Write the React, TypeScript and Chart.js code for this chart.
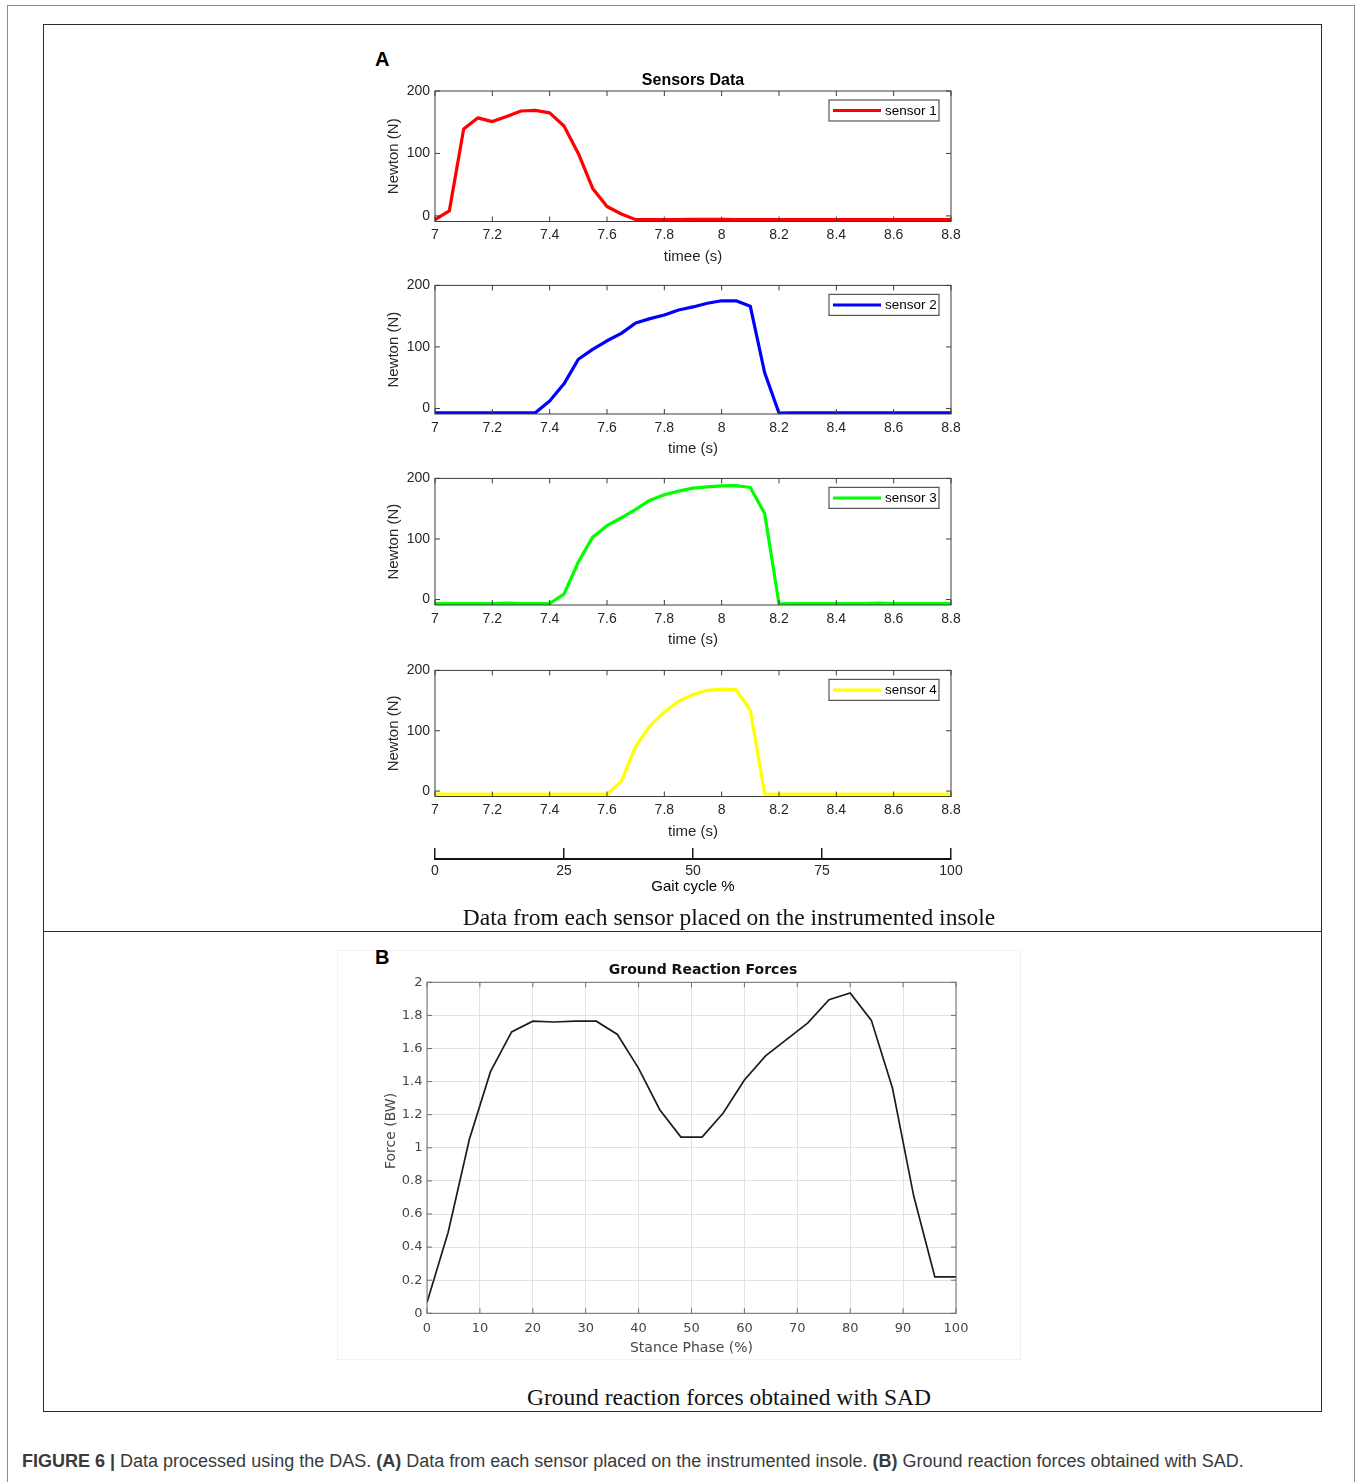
import React, { useEffect, useRef } from "react";
import { Chart, registerables } from "chart.js";

Chart.register(...registerables);

// ---------------- Data ----------------
const timeSeconds = [
  7.0, 7.05, 7.1, 7.15, 7.2, 7.25, 7.3, 7.35, 7.4, 7.45, 7.5, 7.55, 7.6, 7.65, 7.7, 7.75, 7.8, 7.85, 7.9,
  7.95, 8.0, 8.05, 8.1, 8.15, 8.2, 8.25, 8.3, 8.35, 8.4, 8.45, 8.5, 8.55, 8.6, 8.65, 8.7, 8.75, 8.8,
];
const sensor1 = [
  -6, 8, 139, 157, 151, 159, 168, 169, 165, 144, 100, 44, 15, 3, -6, -6, -6, -6, -5.5, -5.5, -5.5, -6, -6,
  -6, -6, -6, -6, -6, -6, -6, -6, -6, -6, -6, -6, -6, -6,
];
const sensor2 = [
  -7, -7, -7, -7, -7, -7, -7, -7, 12, 40, 80, 96, 110, 122, 139, 146, 152, 160, 165, 171, 175, 175, 166, 58,
  -7.5, -7, -7, -7, -7, -7, -7, -7, -7, -7, -7, -7, -7,
];
const sensor3 = [
  -6.5, -6.5, -6.5, -6.5, -6.5, -6, -6.5, -6.5, -6.5, 9, 62, 103, 122, 135, 149, 164, 173, 179, 184, 186,
  187.5, 188, 185, 142, -7, -6.5, -6.5, -6.5, -6.5, -6.5, -6.5, -6, -6.5, -6.5, -6.5, -6.5, -6.5,
];
const sensor4 = [
  -5, -5, -5, -5, -5, -5, -5, -5, -5, -5, -5, -5, -5, 16, 74, 108, 131, 149, 160, 167, 169, 168, 134, -5,
  -5, -5, -5, -5, -5, -5, -5, -5, -5, -5, -5, -5, -5,
];
const timeTicks = [7, 7.2, 7.4, 7.6, 7.8, 8, 8.2, 8.4, 8.6, 8.8];
const newtonTicks = [0, 100, 200];
const gaitTicks = [0, 25, 50, 75, 100];

const stancePhase = [0, 4, 8, 12, 16, 20, 24, 28, 32, 36, 40, 44, 48, 52, 56, 60, 64, 68, 72, 76, 80, 84, 88, 92, 96, 100];
const groundReaction = [
  0.065, 0.49, 1.05, 1.46, 1.7, 1.765, 1.76, 1.765, 1.765, 1.685, 1.48, 1.23, 1.065, 1.065, 1.21, 1.41,
  1.555, 1.655, 1.755, 1.895, 1.935, 1.77, 1.36, 0.71, 0.22, 0.22,
];
const stanceTicks = [0, 10, 20, 30, 40, 50, 60, 70, 80, 90, 100];
const forceTicks = [0, 0.2, 0.4, 0.6, 0.8, 1, 1.2, 1.4, 1.6, 1.8, 2];

// ---------------- Styling ----------------
const FONT_A = '"Liberation Sans", Arial, sans-serif';
const FONT_B = '"DejaVu Sans", Verdana, sans-serif';
const TEXT_A = "#262626";
const TEXT_B = "#474747";

const fmt = (v: number) => String(Math.round(v * 100) / 100);

// Draws the MATLAB-like box, inward ticks, inner legend and free text
const framePlugin = {
  id: "frame",
  afterDraw(chart: any, _args: any, opts: any) {
    const { ctx, chartArea: a } = chart;
    ctx.save();
    if (opts && opts.color) {
      ctx.strokeStyle = opts.color;
      ctx.lineWidth = opts.width || 1;
      ctx.strokeRect(a.left, a.top, a.right - a.left, a.bottom - a.top);
      const L = opts.tickLen || 0;
      if (L > 0) {
        const xs = chart.scales.x;
        const ys = chart.scales.y;
        ctx.beginPath();
        xs.ticks.forEach((t: any) => {
          const p = xs.getPixelForValue(t.value);
          ctx.moveTo(p, a.bottom);
          ctx.lineTo(p, a.bottom - L);
          ctx.moveTo(p, a.top);
          ctx.lineTo(p, a.top + L);
        });
        ys.ticks.forEach((t: any) => {
          const p = ys.getPixelForValue(t.value);
          ctx.moveTo(a.left, p);
          ctx.lineTo(a.left + L, p);
          ctx.moveTo(a.right, p);
          ctx.lineTo(a.right - L, p);
        });
        ctx.stroke();
      }
    }
    if (opts && opts.legend) {
      const lg = opts.legend;
      const ds = chart.data.datasets[0];
      const x0 = a.right - lg.offsetRight - lg.w;
      const y0 = a.top + lg.offsetTop;
      ctx.fillStyle = "#ffffff";
      ctx.fillRect(x0, y0, lg.w, lg.h);
      ctx.strokeStyle = lg.border;
      ctx.lineWidth = 1.2;
      ctx.strokeRect(x0, y0, lg.w, lg.h);
      ctx.strokeStyle = ds.borderColor;
      ctx.lineWidth = 3;
      ctx.beginPath();
      ctx.moveTo(x0 + 4, y0 + lg.h / 2);
      ctx.lineTo(x0 + 52, y0 + lg.h / 2);
      ctx.stroke();
      ctx.fillStyle = lg.color;
      ctx.font = lg.font;
      ctx.textBaseline = "middle";
      ctx.textAlign = "left";
      ctx.fillText(ds.label, x0 + 56, y0 + lg.h / 2 + 0.5);
    }
    if (opts && opts.texts) {
      opts.texts.forEach((t: any) => {
        ctx.save();
        ctx.translate(t.x, t.y);
        if (t.rotate) ctx.rotate(t.rotate);
        ctx.font = t.font;
        ctx.fillStyle = t.color;
        ctx.textAlign = "center";
        ctx.textBaseline = "middle";
        ctx.fillText(t.text, 0, 0);
        ctx.restore();
      });
    }
    ctx.restore();
  },
};

// ---------------- Layout (positions only) ----------------
const A_LEFT = 370;
const A_WIDTH = 600;
const A_PAD_LEFT = 15;
const A_Y_W = 50;
const A_PAD_RIGHT = 19;
const A_X_H = 44;

type Panel = {
  values: number[];
  label: string;
  color: string;
  xTitle: string;
  top: number;
  h: number;
  title?: string;
};

const panels: Panel[] = [
  { values: sensor1, label: "sensor 1", color: "#ff0000", xTitle: "timee (s)", top: 91, h: 130.5, title: "Sensors Data" },
  { values: sensor2, label: "sensor 2", color: "#0000ff", xTitle: "time (s)", top: 284, h: 130 },
  { values: sensor3, label: "sensor 3", color: "#00ff00", xTitle: "time (s)", top: 477, h: 128 },
  { values: sensor4, label: "sensor 4", color: "#ffff00", xTitle: "time (s)", top: 669, h: 127.5 },
];

function CanvasChart(props: { left: number; top: number; width: number; height: number; make: () => any }) {
  const ref = useRef<HTMLCanvasElement | null>(null);
  useEffect(() => {
    if (!ref.current) return;
    const chart = new Chart(ref.current, props.make());
    return () => chart.destroy();
  }, []);
  return (
    <canvas
      ref={ref}
      width={props.width}
      height={props.height}
      style={{ position: "absolute", left: props.left, top: props.top, width: props.width, height: props.height }}
    />
  );
}

function sensorGeometry(p: Panel) {
  const pre = p.title ? 23 : 12;
  const canvasTop = p.top - pre;
  const canvasH = Math.ceil(pre + p.h + A_X_H);
  const xH = canvasH - pre - p.h;
  return { pre, canvasTop, canvasH, xH };
}

function sensorConfig(p: Panel) {
  const g = sensorGeometry(p);
  return {
    type: "line",
    data: {
      datasets: [
        {
          label: p.label,
          data: timeSeconds.map((t, i) => ({ x: t, y: p.values[i] })),
          borderColor: p.color,
          backgroundColor: p.color,
          borderWidth: 3.2,
          pointRadius: 0,
          tension: 0,
          fill: false,
          borderJoinStyle: "round",
        },
      ],
    },
    options: {
      responsive: false,
      animation: false,
      events: [],
      layout: { padding: { left: A_PAD_LEFT, right: A_PAD_RIGHT, top: p.title ? 0 : g.pre, bottom: 0 } },
      plugins: {
        legend: { display: false },
        tooltip: { enabled: false },
        title: p.title
          ? {
              display: true,
              text: p.title,
              fullSize: false,
              color: "#000000",
              font: { family: FONT_A, size: 16, weight: "bold" },
              padding: { top: 3, bottom: 0.8 },
            }
          : { display: false },
        frame: {
          color: "#3c3c3c",
          width: 1,
          tickLen: 5,
          legend: {
            offsetRight: 12,
            offsetTop: 9,
            w: 110,
            h: 21,
            border: "#555555",
            color: "#000000",
            font: `13.5px ${FONT_A}`,
          },
        },
      },
      scales: {
        x: {
          type: "linear",
          min: 7,
          max: 8.8,
          afterBuildTicks: (s: any) => {
            s.ticks = timeTicks.map((v) => ({ value: v }));
          },
          afterFit: (s: any) => {
            s.height = g.xH;
          },
          grid: { display: false, drawTicks: false },
          border: { display: false },
          ticks: {
            color: TEXT_A,
            font: { family: FONT_A, size: 14 },
            padding: 5.5,
            maxRotation: 0,
            autoSkip: false,
            callback: (v: any) => fmt(Number(v)),
          },
          title: {
            display: true,
            text: p.xTitle,
            color: TEXT_A,
            font: { family: FONT_A, size: 15 },
            padding: { top: 0, bottom: 0 },
          },
        },
        y: {
          type: "linear",
          min: -9,
          max: 200,
          afterBuildTicks: (s: any) => {
            s.ticks = newtonTicks.map((v) => ({ value: v }));
          },
          afterFit: (s: any) => {
            s.width = A_Y_W;
          },
          grid: { display: false, drawTicks: false },
          border: { display: false },
          ticks: {
            color: TEXT_A,
            font: { family: FONT_A, size: 14 },
            padding: 5,
            callback: (v: any) => fmt(Number(v)),
          },
          title: {
            display: true,
            text: "Newton (N)",
            color: TEXT_A,
            font: { family: FONT_A, size: 15 },
            padding: { top: 0, bottom: 0 },
          },
        },
      },
    },
    plugins: [framePlugin],
  };
}

function gaitConfig() {
  return {
    type: "line",
    data: { datasets: [] },
    options: {
      responsive: false,
      animation: false,
      events: [],
      layout: { padding: { left: A_PAD_LEFT + A_Y_W, right: A_PAD_RIGHT, top: 10, bottom: 0 } },
      plugins: { legend: { display: false }, tooltip: { enabled: false } },
      scales: {
        x: {
          type: "linear",
          min: 0,
          max: 100,
          afterBuildTicks: (s: any) => {
            s.ticks = gaitTicks.map((v) => ({ value: v }));
          },
          afterFit: (s: any) => {
            s.height = 37;
          },
          grid: { display: true, drawOnChartArea: true, drawTicks: false, color: "#1a1a1a", lineWidth: 1.5 },
          border: { display: true, color: "#111111", width: 2 },
          ticks: {
            color: TEXT_A,
            font: { family: FONT_A, size: 14 },
            padding: 3.6,
            maxRotation: 0,
            autoSkip: false,
            callback: (v: any) => fmt(Number(v)),
          },
          title: {
            display: true,
            text: "Gait cycle %",
            color: "#000000",
            font: { family: FONT_A, size: 15 },
            padding: { top: 0, bottom: 0 },
          },
        },
        y: { display: false, min: 0, max: 1 },
      },
    },
  };
}

const B_LEFT = 340;
const B_TOP = 950;
const B_W = 680;
const B_H = 407;
const B_PAD_TOP = 32.3;
const B_PLOT_H = 331;

function grfConfig() {
  return {
    type: "line",
    data: {
      datasets: [
        {
          label: "GRF",
          data: stancePhase.map((x, i) => ({ x, y: groundReaction[i] })),
          borderColor: "#1c1c1c",
          borderWidth: 1.7,
          pointRadius: 0,
          tension: 0,
          fill: false,
        },
      ],
    },
    options: {
      responsive: false,
      animation: false,
      events: [],
      layout: { padding: { left: 43, right: 64, top: B_PAD_TOP, bottom: 0 } },
      plugins: {
        legend: { display: false },
        tooltip: { enabled: false },
        frame: {
          color: "#6e6e6e",
          width: 1,
          tickLen: 5,
          texts: [
            { text: "Ground Reaction Forces", x: 363, y: 20.7, font: `bold 14px ${FONT_B}`, color: "#111111" },
            { text: "Force (BW)", x: 51.5, y: 181, rotate: -Math.PI / 2, font: `14px ${FONT_B}`, color: TEXT_B },
          ],
        },
      },
      scales: {
        x: {
          type: "linear",
          min: 0,
          max: 100,
          afterBuildTicks: (s: any) => {
            s.ticks = stanceTicks.map((v) => ({ value: v }));
          },
          afterFit: (s: any) => {
            s.height = B_H - B_PAD_TOP - B_PLOT_H;
          },
          grid: { display: true, drawTicks: false, color: "#e2e2e2", lineWidth: 1 },
          border: { display: false },
          ticks: {
            color: TEXT_B,
            font: { family: FONT_B, size: 13 },
            padding: 7.4,
            maxRotation: 0,
            autoSkip: false,
            callback: (v: any) => fmt(Number(v)),
          },
          title: {
            display: true,
            text: "Stance Phase (%)",
            color: TEXT_B,
            font: { family: FONT_B, size: 14 },
            padding: { top: 0, bottom: 0 },
          },
        },
        y: {
          type: "linear",
          min: 0,
          max: 2,
          afterBuildTicks: (s: any) => {
            s.ticks = forceTicks.map((v) => ({ value: v }));
          },
          afterFit: (s: any) => {
            s.width = 44;
          },
          grid: { display: true, drawTicks: false, color: "#e2e2e2", lineWidth: 1 },
          border: { display: false },
          ticks: {
            color: TEXT_B,
            font: { family: FONT_B, size: 13 },
            padding: 4.5,
            autoSkip: false,
            callback: (v: any) => fmt(Number(v)),
          },
          title: { display: false },
        },
      },
    },
    plugins: [framePlugin],
  };
}

export default function App() {
  const abs = (s: React.CSSProperties): React.CSSProperties => ({ position: "absolute", ...s });
  return (
    <div style={abs({ left: 0, top: 0, width: 1357, height: 1482, background: "#ffffff", overflow: "hidden" })}>
      {/* outer page border */}
      <div
        style={abs({
          left: 6.5,
          top: 5.25,
          width: 1348.25,
          height: 1600,
          border: "1.5px solid #8c8c8c",
          boxSizing: "border-box",
        })}
      />
      {/* inner figure box */}
      <div
        style={abs({
          left: 42.5,
          top: 23.5,
          width: 1279,
          height: 1388.5,
          border: "1.6px solid #2b2b2b",
          boxSizing: "border-box",
        })}
      />
      <div style={abs({ left: 42.5, top: 930.5, width: 1279, height: 1.6, background: "#2b2b2b" })} />

      {/* faint frame of pasted panel B image */}
      <div style={abs({ left: 337, top: 950, width: 684, height: 410, border: "1px solid #f1f1f1", boxSizing: "border-box" })} />

      <div style={abs({ left: 375, top: 47, font: `bold 20px ${FONT_A}`, lineHeight: "24px", color: "#000" })}>A</div>
      <div style={abs({ left: 375, top: 945, font: `bold 20px ${FONT_A}`, lineHeight: "24px", color: "#000" })}>B</div>

      {panels.map((p) => {
        const g = sensorGeometry(p);
        return (
          <CanvasChart
            key={p.label}
            left={A_LEFT}
            top={g.canvasTop}
            width={A_WIDTH}
            height={g.canvasH}
            make={() => sensorConfig(p)}
          />
        );
      })}
      <CanvasChart left={A_LEFT} top={838} width={A_WIDTH} height={58} make={gaitConfig} />

      <div
        style={abs({
          left: 729,
          top: 904,
          transform: "translateX(-50%)",
          whiteSpace: "nowrap",
          font: `23.5px "Liberation Serif", "Times New Roman", serif`,
          lineHeight: "26px",
          color: "#111",
        })}
      >
        Data from each sensor placed on the instrumented insole
      </div>

      <CanvasChart left={B_LEFT} top={B_TOP} width={B_W} height={B_H} make={grfConfig} />

      <div
        style={abs({
          left: 729,
          top: 1384,
          transform: "translateX(-50%)",
          whiteSpace: "nowrap",
          font: `23.5px "Liberation Serif", "Times New Roman", serif`,
          lineHeight: "26px",
          color: "#111",
        })}
      >
        Ground reaction forces obtained with SAD
      </div>

      <div
        style={abs({
          left: 22,
          top: 1451,
          whiteSpace: "nowrap",
          font: `18px ${FONT_A}`,
          lineHeight: "20px",
          color: "#3a3a3a",
        })}
      >
        <b>FIGURE 6 |</b> Data processed using the DAS. <b>(A)</b> Data from each sensor placed on the instrumented
        insole. <b>(B)</b> Ground reaction forces obtained with SAD.
      </div>
    </div>
  );
}
